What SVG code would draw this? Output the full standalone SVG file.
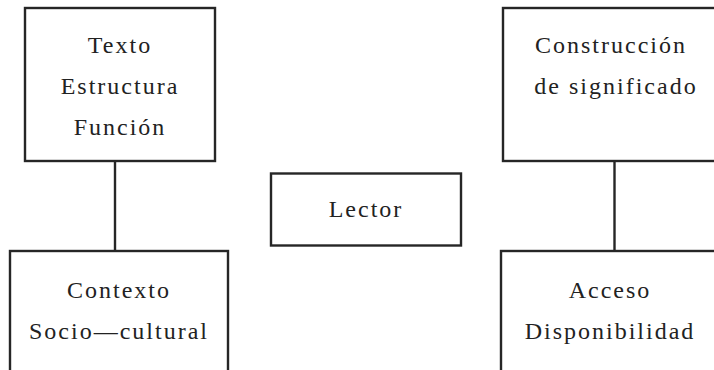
<svg xmlns="http://www.w3.org/2000/svg" width="714" height="370" viewBox="0 0 714 370">
<style>
.box{fill:#fff;stroke:#262626;stroke-width:2.4}
.con{stroke:#262626;stroke-width:2.4;fill:none}
.t{font-size:24px;fill:#222;text-anchor:middle;letter-spacing:2px}
</style>
<rect width="714" height="370" fill="#fff"/>
<g id="connectors">
<line class="con" x1="115" y1="161" x2="115" y2="251"/>
<line class="con" x1="614.5" y1="161" x2="614.5" y2="251"/>
</g>
<g font-family="'Liberation Serif', 'Times New Roman', serif">
<g id="texto">
<rect class="box" x="25" y="8" width="190" height="153"/>
<text class="t" x="120" y="53">Texto</text>
<text class="t" x="120" y="94">Estructura</text>
<text class="t" x="120" y="135">Función</text>
</g>
<g id="contexto">
<rect class="box" x="10" y="251" width="218" height="140"/>
<text class="t" x="119" y="298">Contexto</text>
<text class="t" x="119" y="339">Socio—cultural</text>
</g>
<g id="lector">
<rect class="box" x="271" y="173.5" width="190" height="72"/>
<text class="t" x="366" y="217">Lector</text>
</g>
<g id="construccion">
<rect class="box" x="503" y="8" width="230" height="153"/>
<text class="t" x="611" y="53">Construcción</text>
<text class="t" x="616" y="94">de  significado</text>
</g>
<g id="acceso">
<rect class="box" x="501" y="251" width="232" height="140"/>
<text class="t" x="610" y="298">Acceso</text>
<text class="t" x="610" y="339">Disponibilidad</text>
</g>
</g>
</svg>
